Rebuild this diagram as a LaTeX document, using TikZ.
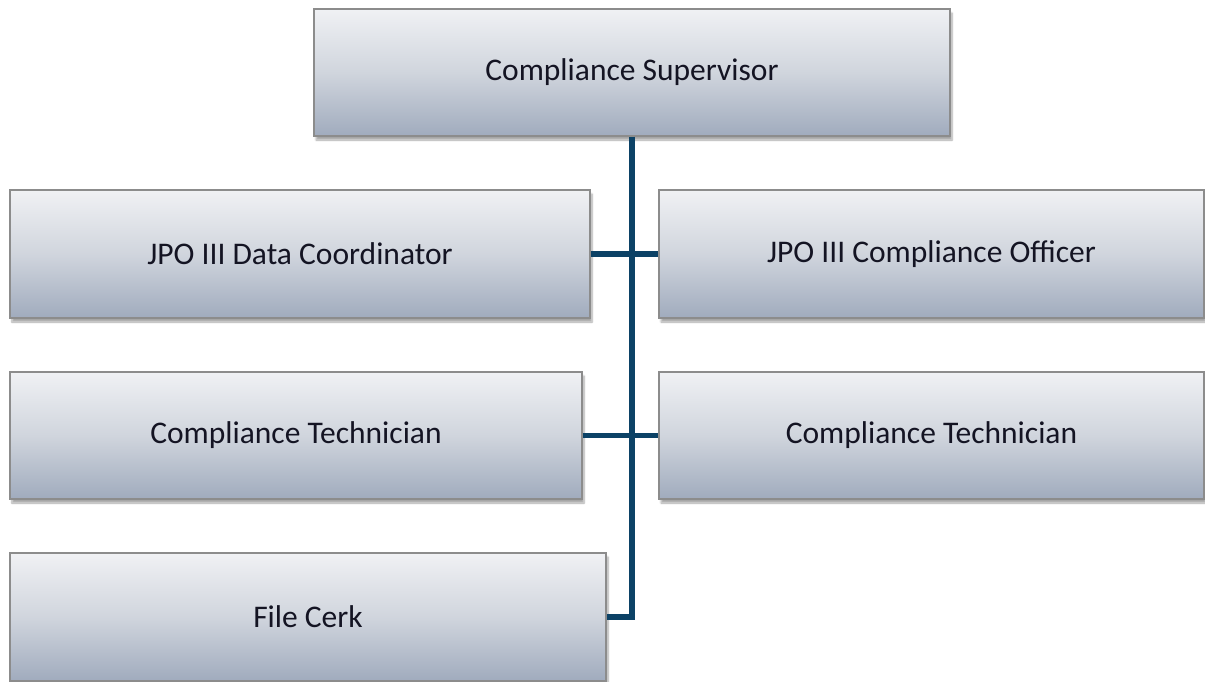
\documentclass[tikz,border=0pt]{standalone}
\usepackage{fontspec}
\setmainfont{Carlito}
\usetikzlibrary{shadows.blur}
\definecolor{boxtop}{RGB}{240,241,244}
\definecolor{boxmid}{RGB}{208,213,221}
\definecolor{boxbot}{RGB}{160,171,189}
\definecolor{boxline}{RGB}{140,140,140}
\definecolor{linkcol}{RGB}{12,66,102}
\definecolor{txt}{RGB}{20,20,35}
\tikzset{
  orgbox/.style={draw=boxline, line width=1.2pt, rectangle, top color=boxtop, bottom color=boxbot, middle color=boxmid,
    blur shadow={shadow xshift=2pt, shadow yshift=-4pt, shadow blur steps=6, shadow opacity=35},
    inner sep=0pt, text=txt, font=\fontsize{31.5}{36}\selectfont},
  link/.style={draw=linkcol, line width=5.5pt}
}
\begin{document}
\begin{tikzpicture}[x=1pt,y=-1pt]
\useasboundingbox (0,0) rectangle (1205,681);
\clip (0,0) rectangle (1205,681);
\node[orgbox, minimum width=636pt, minimum height=127pt] (sup) at (632,72.5) {Compliance Supervisor};
\node[orgbox, minimum width=580pt, minimum height=128pt] (a1) at (300,254) {JPO III Data Coordinator};
\node[orgbox, minimum width=545pt, minimum height=128pt] (b1) at (931.5,254) {JPO III Compliance Officer};
\node[orgbox, minimum width=572pt, minimum height=127pt] (a2) at (296,435.5) {Compliance Technician};
\node[orgbox, minimum width=545pt, minimum height=127pt] (b2) at (931.5,435.5) {Compliance Technician};
\node[orgbox, minimum width=596pt, minimum height=128pt] (a3) at (308,617) {File Cerk};
\draw[link] (sup.south) -- (sup.south |- a3.east) -- (a3.east);
\draw[link] (a1.east) -- (b1.west);
\draw[link] (a2.east) -- (b2.west);
\end{tikzpicture}
\end{document}
